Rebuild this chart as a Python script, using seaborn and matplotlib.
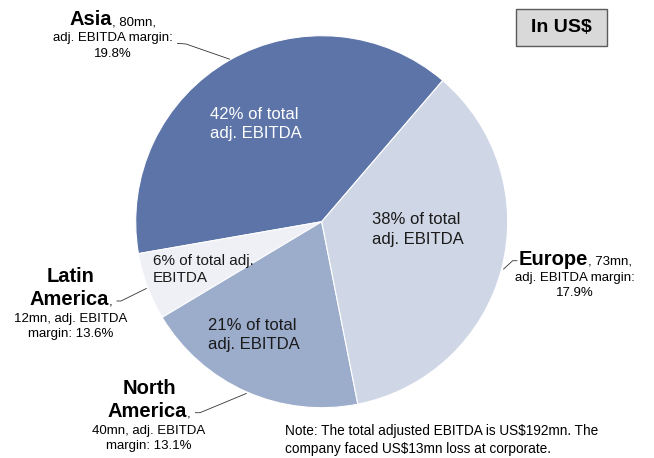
import matplotlib
matplotlib.use("Agg")
import matplotlib.pyplot as plt
import seaborn as sns
from matplotlib.offsetbox import TextArea, HPacker, VPacker, AnnotationBbox
from matplotlib.patches import Rectangle

# Adjusted EBITDA by region (US$ mn) and margins (%)
regions = ["Asia", "Latin America", "North America", "Europe"]
ebitda_mn = [80, 12, 40, 73]
margin_pct = [19.8, 13.6, 13.1, 17.9]
total_ebitda_mn = 192
corporate_loss_mn = 13
colors = ["#5C74A8", "#EEF0F6", "#9CACCB", "#CFD6E6"]
share_text_colors = ["white", "#1a1a1a", "#1a1a1a", "#1a1a1a"]

sns.set_theme(style="white")
plt.rcParams["font.family"] = ["Liberation Sans", "DejaVu Sans"]

W, H = 654, 458
fig = plt.figure(figsize=(W / 100, H / 100), dpi=100)
ax = fig.add_axes([0, 0, 1, 1])


def P(x, y):
    """Pixel position measured from the top-left corner."""
    return (x, H - y)


ax.pie(
    ebitda_mn,
    colors=colors,
    startangle=49.4,
    counterclock=True,
    center=P(321.7, 221.7),
    radius=186,
    wedgeprops=dict(edgecolor="white", linewidth=0.8),
)
ax.set_xlim(0, W)
ax.set_ylim(0, H)
ax.set_aspect("equal")
ax.axis("off")

# Share of total adjusted EBITDA inside each wedge
shares = [round(v / total_ebitda_mn * 100) for v in ebitda_mn]
inner_pos = [P(210, 124), P(153, 269.5), P(208, 335), P(372, 229.5)]
inner_size = [12, 11, 12, 12]
for i, s in enumerate(shares):
    if regions[i] == "Latin America":
        txt = f"{s}% of total adj.\nEBITDA"
    else:
        txt = f"{s}% of total\nadj. EBITDA"
    ax.text(*inner_pos[i], txt, ha="left", va="center", fontsize=inner_size[i],
            color=share_text_colors[i], linespacing=1.35)


def text_row(segs, size_bold=14.5, size_reg=9.5):
    parts = [
        TextArea(t, textprops=dict(fontsize=size_bold if b else size_reg,
                                   fontweight="bold" if b else "normal",
                                   color="black"))
        for t, b in segs
    ]
    return HPacker(children=parts, align="baseline", pad=0, sep=0)


def rich_block(head_rows, body_rows):
    head = VPacker(children=[text_row(r) for r in head_rows], align="center", pad=0, sep=3)
    body = VPacker(children=[text_row(r) for r in body_rows], align="center", pad=0, sep=2.5)
    return VPacker(children=[head, body], align="center", pad=0, sep=2.5)


def region_lines(i):
    name, v, m = regions[i], ebitda_mn[i], margin_pct[i]
    words = name.split()
    if len(words) == 1:
        return ([[(name, True), (f", {v}mn,", False)]],
                [[("adj. EBITDA margin:", False)], [(f"{m}%", False)]])
    return ([[(words[0], True)], [(words[1], True), (",", False)]],
            [[(f"{v}mn, adj. EBITDA", False)], [(f"margin: {m}%", False)]])


outer_pos = [P(112.5, 35), P(71, 303.5), P(149, 415.5), P(575, 274.5)]
for i in range(len(regions)):
    ab = AnnotationBbox(rich_block(*region_lines(i)), outer_pos[i], xycoords="data",
                        frameon=False, box_alignment=(0.5, 0.5), pad=0)
    ax.add_artist(ab)

# Leader lines from labels to wedges
leaders = [
    [(177, 43.3), (186, 44), (230, 59.3)],
    [(116.5, 301), (121, 301), (146.7, 288.3)],
    [(195, 412.7), (200, 412.7), (246.7, 393.3)],
    [(503.3, 269.3), (512.7, 260.7), (517.3, 260.7)],
]
for pts in leaders:
    xs = [p[0] for p in pts]
    ys = [H - p[1] for p in pts]
    ax.plot(xs, ys, color="#333333", linewidth=0.6, solid_capstyle="butt")

# Currency tag
ax.add_patch(Rectangle(P(516, 46), 90.7, 36.7, facecolor="#D9D9D9",
                       edgecolor="#5a5a5a", linewidth=1))
ax.text(*P(561.3, 27.7), "In US$", ha="center", va="center", fontsize=14,
        fontweight="bold", color="black")

ax.text(*P(285, 440), f"Note: The total adjusted EBITDA is US${total_ebitda_mn}mn. The\n"
        f"company faced US${corporate_loss_mn}mn loss at corporate.",
        ha="left", va="center", fontsize=9.8, color="black", linespacing=1.4)

fig.savefig("out.png", dpi=100)
